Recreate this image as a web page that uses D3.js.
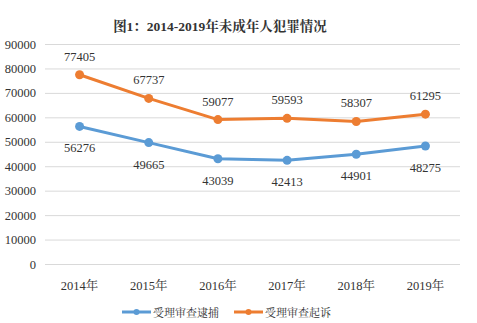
<!DOCTYPE html>
<html><head><meta charset="utf-8">
<script src="https://cdn.jsdelivr.net/npm/d3@7"></script>
<style>body{margin:0;background:#fff}text{font-family:"Liberation Serif","Noto Serif CJK SC","Noto Sans CJK SC",serif}</style>
</head><body><svg id="c" width="477" height="323"></svg>
<script>
const title = "图1：2014-2019年未成年人犯罪情况";
const categories = ["2014年","2015年","2016年","2017年","2018年","2019年"];
const arrestValues = [56276,49665,43039,42413,44901,48275];
const prosecuteValues = [77405,67737,59077,59593,58307,61295];
const seriesNames = ["受理审查逮捕","受理审查起诉"];
const yTicks = [0,10000,20000,30000,40000,50000,60000,70000,80000,90000];
const colors = ["#5B9BD5","#ED7D31"];

const svg = d3.select("#c");
const L=45,R=460,T=44,B=264;
const x = d3.scaleBand().domain(categories).range([L,R]);
const y = d3.scaleLinear().domain([0,90000]).range([B,T]);

svg.append("text").attr("x",220).attr("y",31).attr("text-anchor","middle")
  .attr("font-size",13.5).attr("font-weight","bold").attr("fill","#333").text(title);

const ya = svg.append("g").attr("transform",`translate(${L},0)`)
  .call(d3.axisLeft(y).tickValues(yTicks).tickSize(-(R-L)).tickPadding(9).tickFormat(d3.format("d")));
ya.select(".domain").remove();
ya.selectAll("line").attr("stroke","#d9d9d9").attr("stroke-width",1);
ya.selectAll("text").attr("font-size",12.5).attr("fill","#333");

const xa = svg.append("g").attr("transform",`translate(0,${B})`)
  .call(d3.axisBottom(x).tickSize(0).tickPadding(17));
xa.select(".domain").remove();
xa.selectAll("text").attr("font-size",12.5).attr("fill","#333");

const series=[arrestValues,prosecuteValues];
const line = d3.line().x((d,i)=>x(categories[i])+x.bandwidth()/2).y(d=>y(d));
series.forEach((vals,si)=>{
  svg.append("path").datum(vals).attr("d",line).attr("fill","none")
    .attr("stroke",colors[si]).attr("stroke-width",3).attr("stroke-linejoin","round");
  svg.selectAll(null).data(vals).enter().append("circle")
    .attr("cx",(d,i)=>x(categories[i])+x.bandwidth()/2).attr("cy",d=>y(d)).attr("r",4.5).attr("fill",colors[si]);
  svg.selectAll(null).data(vals).enter().append("text")
    .attr("x",(d,i)=>x(categories[i])+x.bandwidth()/2)
    .attr("y",d=>si===0? y(d)+26 : y(d)-14)
    .attr("text-anchor","middle").attr("font-size",12.5).attr("fill","#333").text(d=>d);
});

const lg = svg.append("g");
const lx=[122,234];
seriesNames.forEach((n,i)=>{
  lg.append("line").attr("x1",lx[i]).attr("x2",lx[i]+29).attr("y1",312).attr("y2",312)
    .attr("stroke",colors[i]).attr("stroke-width",3);
  lg.append("circle").attr("cx",lx[i]+14.5).attr("cy",312).attr("r",3).attr("fill",colors[i]);
  lg.append("text").attr("x",lx[i]+31).attr("y",316.5).attr("font-size",11).attr("fill","#333").text(n);
});
</script></body></html>
